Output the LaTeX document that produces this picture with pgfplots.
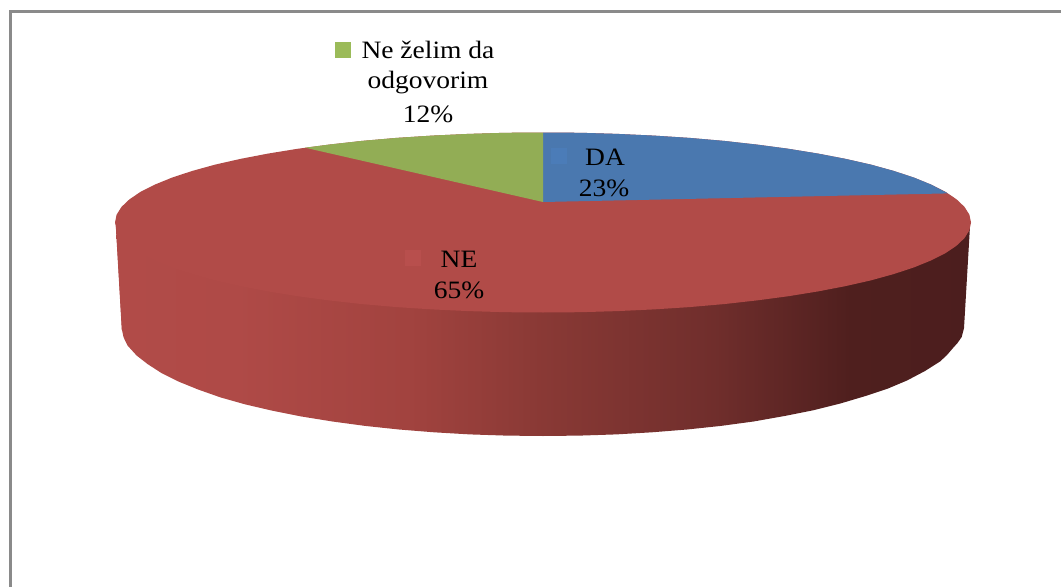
\documentclass[border=0pt]{standalone}
\usepackage{fontspec}
\setmainfont[FakeStretch=1.10]{Liberation Serif}
\usepackage{pgfplots}
\pgfplotsset{compat=1.18}
\definecolor{pieblue}{HTML}{4A78AF}
\definecolor{piered}{HTML}{B14B48}
\definecolor{piegreen}{HTML}{92AD55}
\definecolor{mkblue}{HTML}{4B7CB8}
\definecolor{mkred}{HTML}{B84F4D}
\definecolor{mkgreen}{HTML}{9BBB59}
\definecolor{frame}{HTML}{8A8A8A}
\definecolor{sa}{HTML}{B14B48}
\definecolor{sb}{HTML}{AF4A47}
\definecolor{sc}{HTML}{A2433F}
\definecolor{sd}{HTML}{893935}
\definecolor{se}{HTML}{702E2C}
\definecolor{sf}{HTML}{4F1F1E}
\definecolor{sg}{HTML}{4C1E1E}
\pgfdeclarehorizontalshading{sidered}{100bp}{
 color(0bp)=(sa);
 color(25bp)=(sa);
 color(32bp)=(sb);
 color(42bp)=(sc);
 color(50bp)=(sd);
 color(60bp)=(se);
 color(68bp)=(sf);
 color(75bp)=(sg);
 color(100bp)=(sg)}
\begin{document}
\begin{tikzpicture}
\begin{axis}[
  scale only axis, width=1061bp, height=587bp,
  xmin=0, xmax=1061, ymin=0, ymax=587, y dir=reverse,
  hide axis, clip=true, enlargelimits=false]
% page background
\addplot[fill=white, draw=none] coordinates {(0,0) (1061,0) (1061,587) (0,587)} -- cycle;
% side of the disc
\addplot[draw=none, shading=sidered] coordinates {
 (116,226) (122,330)
 (123.6,337.4) (127.5,345.5) (136.6,355.5) (147.5,364) (161.4,373) (178.4,381.5) (198.1,389.5) (220.5,397.4) (245.3,404.4) (272.4,410.7) (301.5,416.5) (332.5,421.5) (365.1,425.9) (399,429.5) (434,432.3) (469.9,434.4) (506.3,435.6) (543,436)
 (579.7,435.6) (616.1,434.4) (652,432.3) (687,429.5) (720.9,425.9) (753.5,421.5) (784.5,416) (813.6,410.2) (840.7,403.4) (865.5,396) (888,388.5) (907,380.5) (925,371) (940,361.5) (947,355) (953,348) (957.5,343) (961.7,337) (964,328)
 (970,226)} -- cycle;
\addplot[draw=sa, line width=1bp] coordinates {(116.3,226) (122.3,330)};
% NE 65
\addplot[fill=piered, draw=none] coordinates {
 (971,222.5) (969.4,230.3) (964.5,238.1) (956.4,245.8) (945.2,253.3) (930.9,260.5) (913.7,267.5) (893.6,274.1) (870.8,280.4) (845.6,286.1) (818.1,291.4) (788.5,296.2) (757,300.4) (723.9,304.1) (689.4,307.1) (653.8,309.4) (617.3,311.1) (580.3,312.2) (543,312.5)
 (505.7,312.2) (468.7,311.1) (432.2,309.4) (396.6,307.1) (362.1,304.1) (329,300.4) (297.5,296.2) (267.9,291.4) (240.4,286.1) (215.2,280.4) (192.4,274.1) (172.3,267.5) (155.1,260.5) (140.8,253.3) (129.6,245.8) (121.5,238.1) (116.6,230.3) (115,222.5)
 (116.6,214.7) (121.5,206.9) (129.6,199.2) (140.8,191.7) (155.1,184.5) (172.3,177.5) (192.4,170.9) (215.2,164.6) (240.4,158.9) (267.9,153.6) (297.5,148.8) (329,144.6) (362.1,140.9) (396.6,137.9) (432.2,135.6) (468.7,133.9) (505.7,132.8) (543,132.5)
 (580.3,132.8) (617.3,133.9) (653.8,135.6) (689.4,137.9) (723.9,140.9) (757,144.6) (788.5,148.8) (818.1,153.6) (845.6,158.9) (870.8,164.6) (893.6,170.9) (913.7,177.5) (930.9,184.5) (945.2,191.7) (956.4,199.2) (964.5,206.9) (969.4,214.7)} -- cycle;
% DA 23
\addplot[fill=pieblue, draw=none] coordinates {
 (543,202) (543,132.5) (580.3,132.8) (617.3,133.9) (653.8,135.6) (689.4,137.9) (723.9,140.9) (757,144.6) (788.5,148.8) (818.1,153.6) (845.6,158.9) (870.8,164.6) (893.6,170.9) (913.7,177.5) (930.9,184.5) (948,193.4)} -- cycle;
% Ne zelim da odgovorim 12
\addplot[fill=piegreen, draw=none] coordinates {
 (543,202) (543,132.5) (505.7,132.8) (468.7,133.9) (432.2,135.6) (396.6,137.9) (362.1,140.9) (329,144.6) (305,147.7)} -- cycle;
% frame
\addplot[draw=frame, line width=3bp] coordinates {(10,587) (10,11.5) (1061,11.5)};
% legend keys in the labels
\addplot[only marks, mark=square*, mark size=7.2bp, mark options={line width=0.2pt, draw=mkgreen, fill=mkgreen}] coordinates {(342.5,49.5)};
\addplot[only marks, mark=square*, mark size=7.2bp, mark options={line width=0.2pt, draw=mkred, fill=mkred}] coordinates {(412.5,257.5)};
\addplot[only marks, mark=square*, mark size=7.2bp, mark options={line width=0.2pt, draw=mkblue, fill=mkblue}] coordinates {(558.5,155.5)};
\begin{scope}[every node/.style={anchor=base, inner sep=0pt, font=\fontsize{25bp}{30bp}\selectfont, text=black}]
\node at (axis cs:428,59) {Ne želim da};
\node at (axis cs:428,89) {odgovorim};
\node at (axis cs:428,122) {12\%};
\node at (axis cs:605,165) {DA};
\node at (axis cs:604,196) {23\%};
\node at (axis cs:459,267) {NE};
\node at (axis cs:459,298) {65\%};
\end{scope}
\end{axis}
\end{tikzpicture}
\end{document}
